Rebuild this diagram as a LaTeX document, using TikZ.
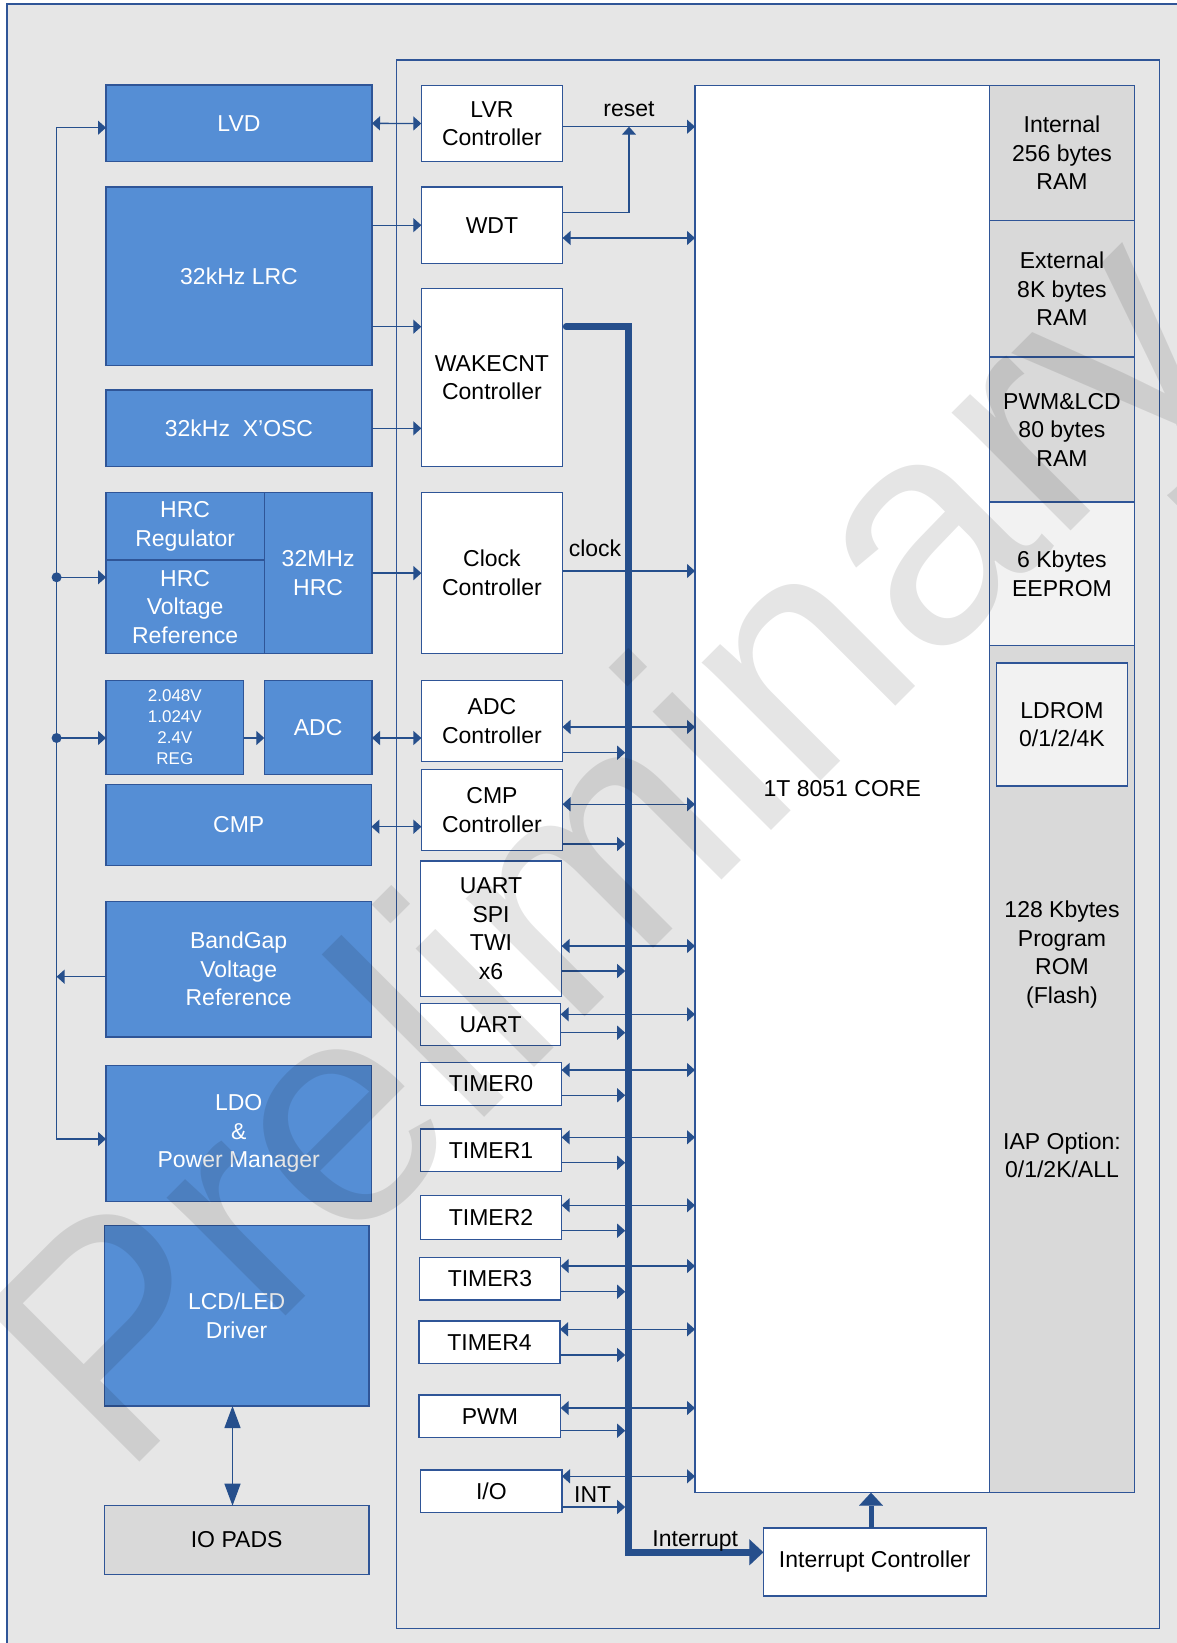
\documentclass[tikz,border=0pt]{standalone}
\usepackage{fontspec}
\setmainfont{Liberation Sans}
\usetikzlibrary{arrows.meta}
\definecolor{cBg}{HTML}{E6E6E6}
\definecolor{cBlue}{HTML}{558ED5}
\definecolor{cBord}{HTML}{2F5597}
\definecolor{cArr}{HTML}{264F8C}
\definecolor{cMemG}{HTML}{D9D9D9}
\definecolor{cMemL}{HTML}{F2F2F2}
\newcommand\mainfnt{\fontsize{23}{28.5}\selectfont}
\newcommand\regfnt{\fontsize{17}{21}\selectfont}
\newcommand\wmfnt{\fontsize{317}{317}\selectfont}
\newcommand\mkbox[7]{\node[#1, minimum width={(#5-#3)*1pt}, minimum height={(#6-#4)*1pt}] (#2) at ({(#3+#5)/2},{(#4+#6)/2}) {#7};}
\tikzset{
  boxbase/.style={draw=cBord, line width=1.4pt, inner sep=0pt, outer sep=0pt, align=center, font=\mainfnt},
  blk/.style={boxbase, fill=cBlue, text=white},
  wbox/.style={boxbase, fill=white, text=black},
  gbox/.style={boxbase, fill=cMemG, text=black},
  memb/.style={boxbase, fill=cMemG, text=black},
  memlt/.style={boxbase, fill=cMemL, text=black},
  txt/.style={inner sep=0pt, align=center, font=\mainfnt, text=black},
  arr/.style={draw=cArr, line width=1.3pt, -{Triangle[length=8pt,width=14pt]}},
  darr/.style={draw=cArr, line width=1.3pt, {Triangle[length=8pt,width=14pt]}-{Triangle[length=8pt,width=14pt]}},
  busln/.style={draw=cArr, line width=6.5pt},
}
\begin{document}
\begin{tikzpicture}[x=1pt,y=-1pt]
\useasboundingbox (0,0) rectangle (1176,1643);
\fill[white] (0,0) rectangle (1176,1643);
% background
\fill[cBg] (7,4) rectangle (1200,1670);
\draw[cBord, line width=1.4pt] (7,1670) -- (7,4) -- (1200,4);
\mkbox{draw=cBord, line width=1.3pt, inner sep=0pt, outer sep=0pt}{chip}{396.5}{60}{1159.5}{1628.3}{}
% left blocks
\mkbox{blk}{lvd}{106}{85}{372}{161.7}{LVD}
\mkbox{blk}{lrc}{106}{187}{372}{365.3}{32kHz LRC}
\mkbox{blk}{xosc}{106}{390}{372}{466.7}{32kHz~\ X’OSC}
\mkbox{blk}{hrcreg}{106}{492.5}{264.3}{560}{HRC\\Regulator}
\mkbox{blk}{hrcvr}{106}{560}{264.3}{653.7}{HRC\\Voltage\\Reference}
\mkbox{blk}{hrc}{264.3}{492.5}{372}{653.7}{32MHz\\HRC}
\mkbox{blk, font=\regfnt}{reg}{106}{680.7}{243.7}{774.3}{2.048V\\1.024V\\2.4V\\REG}
\mkbox{blk}{adc}{264.3}{680.7}{372}{774.3}{ADC}
\mkbox{blk}{cmp}{106}{784.3}{371.4}{865.7}{CMP}
\mkbox{blk}{bg}{106}{901.3}{371.4}{1037}{BandGap\\Voltage\\Reference}
\mkbox{blk}{ldo}{106}{1065.7}{371.4}{1201.7}{LDO\\\&\\Power Manager}
\mkbox{blk}{lcd}{104.3}{1225.3}{369}{1406}{LCD/LED\\Driver}
\mkbox{gbox}{pads}{104.3}{1505.7}{369}{1574.3}{IO PADS}
% controllers
\mkbox{wbox}{lvr}{421.3}{85.3}{562.6}{161.7}{LVR\\Controller}
\mkbox{wbox}{wdt}{421.3}{187}{562.6}{263.3}{WDT}
\mkbox{wbox}{wake}{421.3}{288.7}{562.6}{466.7}{WAKECNT\\Controller}
\mkbox{wbox}{clk}{421.4}{492.3}{562.5}{653.7}{Clock\\Controller}
\mkbox{wbox}{adcc}{421.4}{680.7}{562.5}{761.7}{ADC\\Controller}
\mkbox{wbox}{cmpc}{421.4}{769.7}{562.5}{850.3}{CMP\\Controller}
\mkbox{wbox}{serial}{420.5}{861}{561.6}{996.7}{UART\\SPI\\TWI\\x6}
\mkbox{wbox}{uart}{420.5}{1003.3}{560.7}{1045.3}{UART}
\mkbox{wbox}{tm0}{420.5}{1062.7}{561.6}{1105.3}{TIMER0}
\mkbox{wbox}{tm1}{420.5}{1129}{561.6}{1171.7}{TIMER1}
\mkbox{wbox}{tm2}{420.5}{1195.3}{561.6}{1239.3}{TIMER2}
\mkbox{wbox}{tm3}{419.2}{1257.7}{560.7}{1300}{TIMER3}
\mkbox{wbox}{tm4}{419}{1321}{560}{1363.3}{TIMER4}
\mkbox{wbox}{pwm}{419}{1395}{560.7}{1437.3}{PWM}
\mkbox{wbox}{io}{420.7}{1470}{562}{1512.3}{I/O}
\mkbox{wbox}{ic}{763.3}{1528}{986.3}{1596}{Interrupt Controller}
% core and memory
\mkbox{wbox}{core}{695}{85.3}{989.5}{1492.7}{1T 8051 CORE}
\mkbox{memb}{iram}{989.5}{85.3}{1134.4}{220.7}{Internal\\256 bytes\\RAM}
\mkbox{memb}{xram}{989.5}{220.7}{1134.4}{357}{External\\8K bytes\\RAM}
\mkbox{memb}{lram}{989.5}{357}{1134.4}{502}{PWM\&LCD\\80 bytes\\RAM}
\mkbox{memlt}{eep}{989.5}{502}{1134.4}{645.3}{6 Kbytes\\EEPROM}
\mkbox{memb}{prom}{989.5}{645.3}{1134.4}{1492.7}{}
\mkbox{memlt}{ldrom}{996.3}{663}{1127.6}{786}{LDROM\\0/1/2/4K}
\node[txt] (promt) at (1062,954.5) {128 Kbytes\\Program\\ROM\\(Flash)};
\node[txt] (iap) at (1062,1155.5) {IAP Option:\\0/1/2K/ALL};
% left supply bus
\coordinate (lb1) at (56.6,127.7);
\coordinate (lb2) at (56.6,1139);
\draw[darr] (lvd.west |- lb1) -- (lb1) -- (lb2) -- (ldo.west |- lb2);
\draw[arr] (bg.west |- 0,976.7) -- (lb1 |- 0,976.7);
\coordinate (j1) at (56.6,577.3);
\coordinate (j2) at (56.6,738);
\fill[cArr] (j1) circle (5);
\fill[cArr] (j2) circle (5);
\draw[arr] (j1) -- (hrcvr.west |- j1);
\draw[arr] (j2) -- (reg.west |- j2);
% left to controllers
\draw[darr] (lvd.east) -- (lvr.west);
\draw[arr] (lrc.east |- wdt.west) -- (wdt.west);
\draw[arr] (lrc.east |- 0,326.7) -- (wake.west |- 0,326.7);
\draw[arr] (xosc.east) -- (wake.west |- xosc.east);
\draw[arr] (hrc.east) -- (clk.west |- hrc.east);
\draw[arr] (reg.east |- 0,738) -- (adc.west |- 0,738);
\draw[darr] (adc.east |- 0,738) -- (adcc.west |- 0,738);
\draw[darr] (cmp.east |- 0,826.7) -- (cmpc.west |- 0,826.7);
\draw[cArr, line width=1.3pt, {Triangle[length=22pt,width=16pt]}-{Triangle[length=22pt,width=16pt]}] (lcd.south -| 232.5,0) -- (pads.north -| 232.5,0);
% reset / wdt / clock
\coordinate (rj) at (629,126.7);
\draw[arr] (lvr.east |- rj) -- (core.west |- rj);
\draw[arr] (wdt.east |- 0,212.3) -- (rj |- 0,212.3) -- (rj);
\node[txt, anchor=base] (lreset) at (629,116.7) {reset};
\draw[darr] (wdt.east |- 0,238) -- (core.west |- 0,238);
\draw[arr] (clk.east |- 0,571) -- (core.west |- 0,571);
\node[txt, anchor=base] (lclock) at (595,556) {clock};
% peripheral rows
\coordinate (bx) at (625.2,0);
\foreach \n/\a/\b in {adcc/727/752.7, cmpc/804.3/844, serial/946/971, uart/1014.3/1032.7, tm0/1070/1095.3, tm1/1137.3/1162.7, tm2/1205.3/1230.7, tm3/1266/1291.7, tm4/1329.3/1355, pwm/1408/1430.7, io/1476.3/1507}{
  \draw[darr] (\n.east |- 0,\a) -- (core.west |- 0,\a);
  \draw[arr] (\n.east |- 0,\b) -- (bx |- 0,\b);
}
\node[txt, anchor=base] (lint) at (592.7,1502.7) {INT};
% interrupt bus
\coordinate (bc1) at (628.6,326.7);
\coordinate (bc2) at (628.6,1552.3);
\draw[busln, line cap=round, shorten <=3.5pt, -{Triangle[length=14pt,width=26pt,line width=0.1pt]}] (wake.east |- bc1) -- (bc1) -- (bc2) -- (ic.west |- bc2);
\node[txt, anchor=base] (lintr) at (695.3,1546.7) {Interrupt};
\draw[busln, line width=5pt, -{Triangle[length=13pt,width=24pt,line width=0.1pt]}] (ic.north -| 871,0) -- (core.south -| 871,0);
% watermark
\node[rotate=45, anchor=base west, inner sep=0pt, text=black, text opacity=0.1, font=\wmfnt] (wm) at (121,1481) {Preliminary};
\end{tikzpicture}
\end{document}
